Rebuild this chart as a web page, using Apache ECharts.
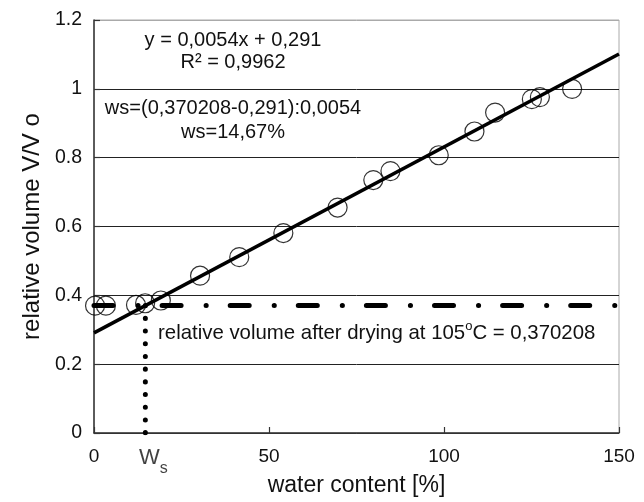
<!DOCTYPE html>
<html><head><meta charset="utf-8">
<script src="https://cdn.jsdelivr.net/npm/echarts@6/dist/echarts.min.js"></script>
<style>html,body{margin:0;padding:0;background:#fff}#c{width:644px;height:502px}</style>
</head><body><div id="c"></div>
<script>
// measured points: water content [%] vs relative volume V/Vo
const waterContent = [0.3, 3.4, 12.0, 14.6, 19.1, 30.3, 41.5, 54.1, 69.6, 79.8, 84.7, 98.5, 108.7, 114.6, 125.1, 127.4, 136.6];
const relVolume    = [0.370, 0.370, 0.372, 0.377, 0.385, 0.457, 0.511, 0.581, 0.655, 0.735, 0.761, 0.807, 0.876, 0.931, 0.970, 0.976, 1.000];
// regression line y = 0,0054x + 0,291 (end points)
const trendX = [0, 150];
const trendY = [0.291, 1.101];
// dry volume and shrinkage limit
const dryVolume = 0.370208;
const wsValue = 14.67;
const dryLineX = [0, 150];
const wsLineY = [dryVolume, 0];

const FONT = '"Liberation Sans", Arial, Helvetica, sans-serif';
const TXT = '#111';

const chart = echarts.init(document.getElementById('c'), null, {renderer: 'canvas'});
chart.setOption({
  animation: false,
  backgroundColor: '#fff',
  grid: {left: 94, right: 25, top: 20, bottom: 65, show: true, borderColor: '#aaa', borderWidth: 1, backgroundColor: 'transparent'},
  xAxis: {
    type: 'value', min: 0, max: 150, interval: 50,
    name: 'water content [%]', nameLocation: 'middle', nameGap: 41,
    nameTextStyle: {fontFamily: FONT, fontSize: 23, color: TXT},
    axisLine: {show: true, lineStyle: {color: '#333', width: 1.5}},
    axisTick: {show: true, inside: true, length: 6, lineStyle: {color: '#333', width: 1.2}},
    axisLabel: {fontFamily: FONT, fontSize: 19, color: TXT, margin: 14},
    splitLine: {show: false}
  },
  yAxis: {
    type: 'value', min: 0, max: 1.2, interval: 0.2,
    name: 'relative volume V/V o', nameLocation: 'middle', nameGap: 48,
    nameTextStyle: {fontFamily: FONT, fontSize: 24, color: TXT},
    axisLine: {show: true, lineStyle: {color: '#333', width: 1.5}},
    axisTick: {show: true, inside: true, length: 6, lineStyle: {color: '#333', width: 1.2}},
    axisLabel: {fontFamily: FONT, fontSize: 19.5, color: TXT, margin: 12},
    splitLine: {show: true, lineStyle: {color: ['#333', '#222', '#222', '#222', '#222', '#222', '#aaa'], width: 1}}
  },
  series: [
    {
      type: 'line', name: 'dry', data: dryLineX.map(x => [x, dryVolume]), showSymbol: false, silent: true, z: 3,
      lineStyle: {color: '#000', width: 5, type: [19, 25, 0.1, 24], cap: 'round'}
    },
    {
      type: 'line', name: 'ws', data: wsLineY.map(y => [wsValue, y]), showSymbol: false, silent: true, z: 3,
      lineStyle: {color: '#000', width: 5, type: [0.1, 12.6], cap: 'round'}
    },
    {
      type: 'line', name: 'trend', data: trendX.map((x, i) => [x, trendY[i]]), showSymbol: false, silent: true, z: 4,
      lineStyle: {color: '#000', width: 3.5}
    },
    {
      type: 'scatter', name: 'measured', data: waterContent.map((x, i) => [x, relVolume[i]]), z: 5,
      symbol: 'circle', symbolSize: 19, clip: false,
      itemStyle: {color: 'rgba(0,0,0,0)', borderColor: '#000', borderWidth: 1.2}
    },
    {
      type: 'scatter', name: 'wsLabel', data: [[wsValue, 0]], symbolSize: 0, clip: false, silent: true,
      label: {
        show: true, position: 'bottom', distance: 14, offset: [8, 0],
        formatter: '{w|W}{s|s}',
        rich: {
          w: {fontFamily: FONT, fontSize: 22, color: TXT, lineHeight: 30, verticalAlign: 'top'},
          s: {fontFamily: FONT, fontSize: 16, color: TXT, lineHeight: 15, verticalAlign: 'bottom'}
        }
      }
    }
  ],
  graphic: [
    {type: 'text', x: 233, y: 40, z: 10, style: {text: 'y = 0,0054x + 0,291', font: '20px ' + FONT, fill: TXT, align: 'center', verticalAlign: 'middle'}},
    {type: 'text', x: 233, y: 62, z: 10, style: {text: 'R² = 0,9962', font: '20px ' + FONT, fill: TXT, align: 'center', verticalAlign: 'middle'}},
    {type: 'text', x: 233, y: 108, z: 10, style: {text: 'ws=(0,370208-0,291):0,0054', font: '20px ' + FONT, fill: TXT, align: 'center', verticalAlign: 'middle'}},
    {type: 'text', x: 233, y: 132, z: 10, style: {text: 'ws=14,67%', font: '20px ' + FONT, fill: TXT, align: 'center', verticalAlign: 'middle'}},
    {type: 'text', x: 158, y: 333, z: 10, style: {
      text: 'relative volume after drying at 105{sup|o}C = 0,370208',
      font: '20.4px ' + FONT, fontFamily: FONT, fontSize: 20.4, fill: TXT, align: 'left', verticalAlign: 'middle', lineHeight: 26,
      rich: {sup: {fontFamily: FONT, fontSize: 13, fill: TXT, lineHeight: 13, verticalAlign: 'top'}}
    }}
  ]
});
</script></body></html>
